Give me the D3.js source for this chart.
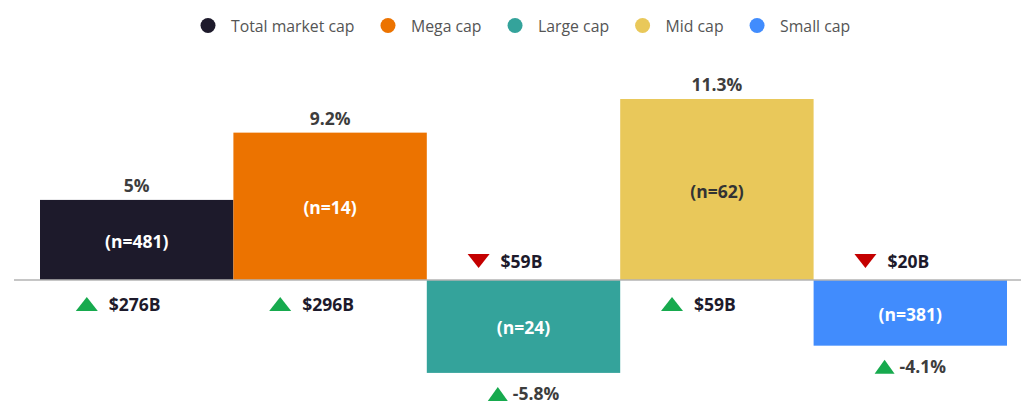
<!DOCTYPE html>
<html>
<head>
<meta charset="utf-8">
<script src="https://cdn.jsdelivr.net/npm/d3@7"></script>
<style>
  body { margin: 0; background: #fff; }
  text { font-family: "Open Sans", "Noto Sans", sans-serif; }
</style>
</head>
<body>
<div id="chart"></div>
<script>
var width = 1021, height = 403;

// chart data
var categories = ["Total market cap", "Mega cap", "Large cap", "Mid cap", "Small cap"];
var colors = ["#1d1a2b", "#ec7300", "#34a39b", "#e9c85a", "#418cfd"];
var innerText = ["#fff", "#fff", "#fff", "#333", "#fff"];
var changes = [5, 9.2, -5.8, 11.3, -4.1];
var counts = [481, 14, 24, 62, 381];
var capChange = [276, 296, -59, 59, -20];

var green = "#17aa4e", red = "#c40000";
var fs = 17.5;

var svg = d3.select("#chart").append("svg")
  .attr("width", width)
  .attr("height", height);

var x = d3.scaleBand().domain(categories).range([40, 1007]).padding(0);
var y = d3.scaleLinear().domain([0, 11.3]).range([280, 99]);

// bars
var bars = svg.append("g").selectAll("g")
  .data(categories)
  .enter().append("g");

bars.append("rect")
  .attr("x", d => x(d))
  .attr("width", x.bandwidth())
  .attr("y", (d, i) => Math.min(y(changes[i]), y(0)))
  .attr("height", (d, i) => Math.abs(y(changes[i]) - y(0)))
  .attr("fill", (d, i) => colors[i]);

// baseline
svg.append("line")
  .attr("x1", 14).attr("x2", width)
  .attr("y1", y(0)).attr("y2", y(0))
  .attr("stroke", "#b3b3b3")
  .attr("stroke-width", 1.5);

// count labels inside bars
bars.append("text")
  .attr("x", d => x(d) + x.bandwidth() / 2)
  .attr("y", (d, i) => (y(changes[i]) + y(0)) / 2 + 1)
  .attr("text-anchor", "middle")
  .attr("dominant-baseline", "central")
  .attr("fill", (d, i) => innerText[i])
  .attr("font-weight", 700)
  .attr("font-size", fs)
  .text((d, i) => "(n=" + counts[i] + ")");

function tri(up, w, h) {
  return up
    ? "M" + (-w / 2) + "," + (h / 2) + "L" + (w / 2) + "," + (h / 2) + "L0," + (-h / 2) + "Z"
    : "M" + (-w / 2) + "," + (-h / 2) + "L" + (w / 2) + "," + (-h / 2) + "L0," + (h / 2) + "Z";
}

// percent labels
bars.each(function(d, i) {
  var g = d3.select(this);
  var cx = x(d) + x.bandwidth() / 2;
  var v = changes[i];
  var label = (Math.round(v * 10) / 10) + "%";
  if (v >= 0) {
    g.append("text")
      .attr("x", cx)
      .attr("y", y(v) - 15)
      .attr("text-anchor", "middle")
      .attr("dominant-baseline", "central")
      .attr("fill", "#3d3d3d")
      .attr("font-weight", 700)
      .attr("font-size", fs)
      .text(label);
  } else {
    var ly = y(v) + 20;
    var t = g.append("text")
      .attr("y", ly)
      .attr("dominant-baseline", "central")
      .attr("fill", "#3d3d3d")
      .attr("font-weight", 700)
      .attr("font-size", fs)
      .text(label);
    var tw = t.node().getComputedTextLength();
    var total = 20 + 5 + tw;
    var left = cx - total / 2;
    t.attr("x", left + 25);
    g.append("path")
      .attr("transform", "translate(" + (left + 10) + "," + (ly + 1) + ")")
      .attr("d", tri(true, 20, 14))
      .attr("fill", green);
  }

  // market cap change labels
  var c = capChange[i];
  var cy = v >= 0 ? y(0) + 24 : y(0) - 19;
  var ct = g.append("text")
    .attr("x", cx - 2)
    .attr("y", cy)
    .attr("text-anchor", "middle")
    .attr("dominant-baseline", "central")
    .attr("fill", "#1d1a2b")
    .attr("font-weight", 700)
    .attr("font-size", fs)
    .text("$" + Math.abs(c) + "B");
  var cw = ct.node().getComputedTextLength();
  g.append("path")
    .attr("transform", "translate(" + (cx - 2 - cw / 2 - 22) + "," + cy + ")")
    .attr("d", tri(c >= 0, 22, 14))
    .attr("fill", c >= 0 ? green : red);
});

// legend
var legend = svg.append("g");
var lx = 200.5;
categories.forEach(function(d, i) {
  legend.append("circle")
    .attr("cx", lx + 7.5)
    .attr("cy", 25.5)
    .attr("r", 7.5)
    .attr("fill", colors[i]);
  var t = legend.append("text")
    .attr("x", lx + 30.5)
    .attr("y", 25.5)
    .attr("dominant-baseline", "central")
    .attr("fill", "#555")
    .attr("font-size", 15.8)
    .text(d);
  lx += 30.5 + t.node().getComputedTextLength() + 26;
});
</script>
</body>
</html>
